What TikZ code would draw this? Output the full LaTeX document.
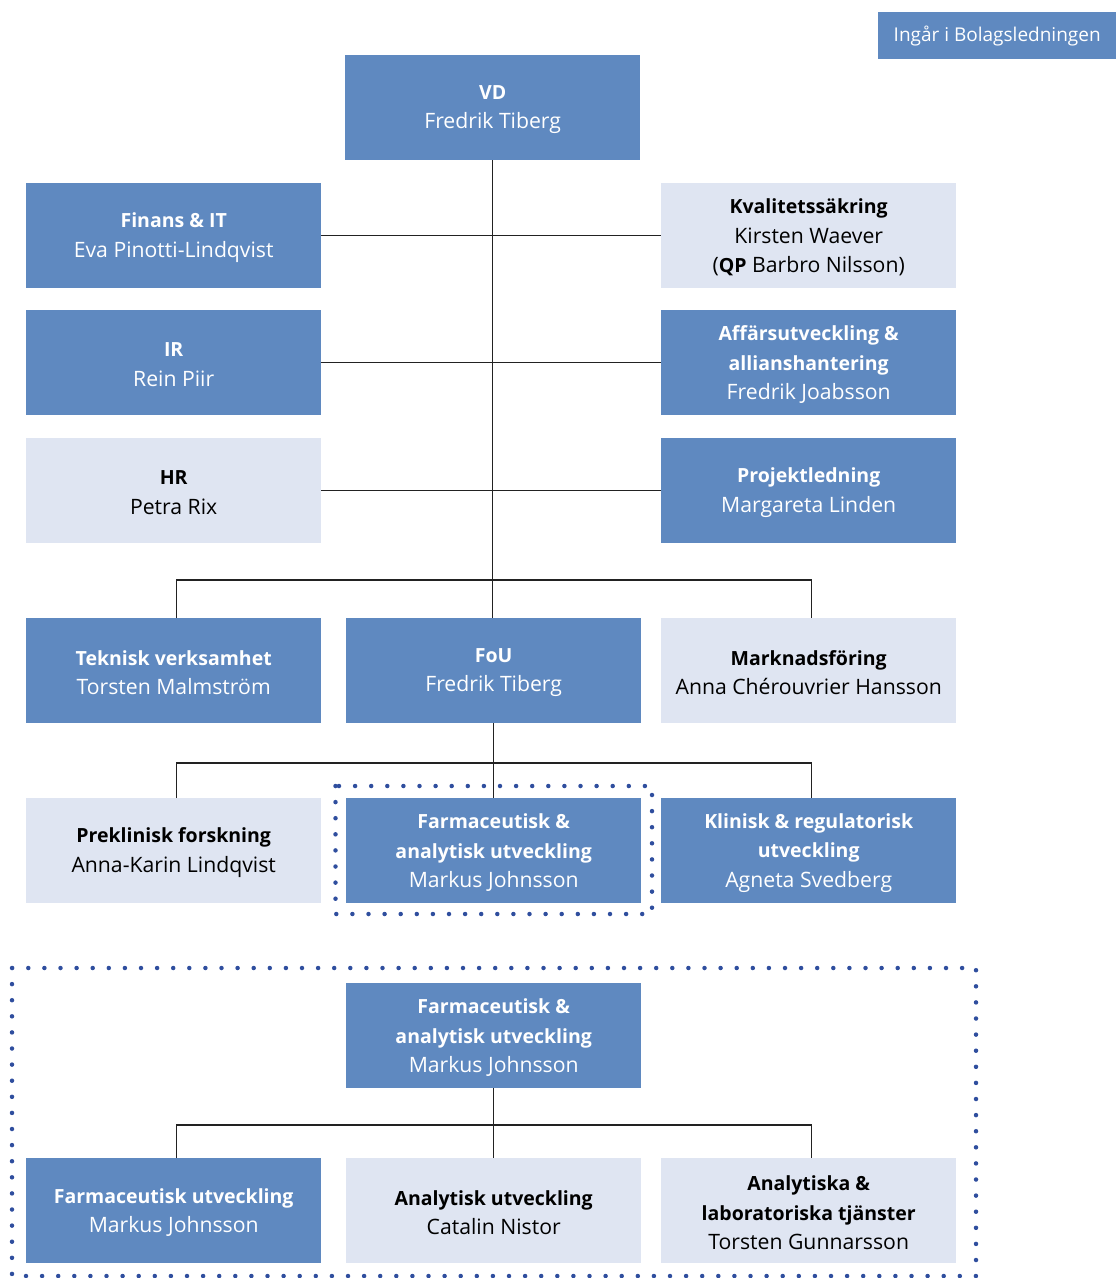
\documentclass[tikz,border=0pt]{standalone}
\usepackage{fontspec}
\setmainfont{Open Sans}[BoldFeatures={Scale=0.92}]
\definecolor{dk}{HTML}{5F89C0}
\definecolor{lt}{HTML}{DFE5F2}
\definecolor{dot}{HTML}{2F4E9E}
\definecolor{ln}{HTML}{222222}
\newcommand{\orgbox}[4]{%
  \node[#1box] (#2) at (#3) {};
  \node[#1txt] (#2-t) at ([yshift=-2pt]#2.center) {#4};}
\begin{document}
\begin{tikzpicture}[x=1pt,y=-1pt,
  box/.style={anchor=north west,minimum width=295pt,minimum height=105pt,inner sep=0pt},
  dkbox/.style={box,fill=dk},
  ltbox/.style={box,fill=lt},
  txt/.style={inner sep=0pt,align=center,font=\fontsize{21.2}{29.5}\selectfont},
  dktxt/.style={txt,text=white},
  lttxt/.style={txt,text=black},
  conn/.style={draw=ln,line width=1.4pt},
  dots/.style={draw=dot,line width=4.5pt,line cap=round,dash pattern=on 0pt off 16.1pt}]
\useasboundingbox (0,0) rectangle (1116,1278);
\node[anchor=north west,fill=dk,text=white,minimum width=238pt,minimum height=47pt,inner sep=0pt,font=\fontsize{19}{22}\selectfont] (ing) at (878,12) {Ingår i Bolagsledningen};
\orgbox{dk}{vd}{345,55}{\textbf{VD}\\Fredrik Tiberg}
\orgbox{dk}{fin}{26,183}{\textbf{Finans \& IT}\\Eva Pinotti-Lindqvist}
\orgbox{lt}{kval}{661,183}{\textbf{Kvalitetssäkring}\\Kirsten Waever\\(\textbf{QP} Barbro Nilsson)}
\orgbox{dk}{ir}{26,310}{\textbf{IR}\\Rein Piir}
\orgbox{dk}{aff}{661,310}{\textbf{Affärsutveckling \&}\\\textbf{allianshantering}\\Fredrik Joabsson}
\orgbox{lt}{hr}{26,438}{\textbf{HR}\\Petra Rix}
\orgbox{dk}{proj}{661,438}{\textbf{Projektledning}\\Margareta Linden}
\orgbox{dk}{tek}{26,618}{\textbf{Teknisk verksamhet}\\Torsten Malmström}
\orgbox{dk}{fou}{346,618}{\textbf{FoU}\\Fredrik Tiberg}
\orgbox{lt}{mark}{661,618}{\textbf{Marknadsföring}\\Anna Chérouvrier Hansson}
\orgbox{lt}{pre}{26,798}{\textbf{Preklinisk forskning}\\Anna-Karin Lindqvist}
\orgbox{dk}{fa}{346,798}{\textbf{Farmaceutisk \&}\\\textbf{analytisk utveckling}\\Markus Johnsson}
\orgbox{dk}{kli}{661,798}{\textbf{Klinisk \& regulatorisk}\\\textbf{utveckling}\\Agneta Svedberg}
\orgbox{dk}{fa2}{346,983}{\textbf{Farmaceutisk \&}\\\textbf{analytisk utveckling}\\Markus Johnsson}
\orgbox{dk}{fu}{26,1158}{\textbf{Farmaceutisk utveckling}\\Markus Johnsson}
\orgbox{lt}{an}{346,1158}{\textbf{Analytisk utveckling}\\Catalin Nistor}
\orgbox{lt}{lab}{661,1158}{\textbf{Analytiska \&}\\\textbf{laboratoriska tjänster}\\Torsten Gunnarsson}
% connectors
\coordinate (b1) at (492,580);
\coordinate (b2) at (492,763);
\coordinate (b3) at (492,1125);
\draw[conn] (vd.south) -- (vd.south |- fou.north);
\draw[conn] (fin.east) -- (kval.west);
\draw[conn] (ir.east) -- (aff.west);
\draw[conn] (hr.east) -- (proj.west);
\draw[conn] ([xshift=2.5pt]tek.north) |- (b1) -| ([xshift=2.5pt]mark.north);
\draw[conn] (fou.south) -- (fa.north);
\draw[conn] ([xshift=2.5pt]pre.north) |- (b2) -| ([xshift=2.5pt]kli.north);
\draw[conn] (fa2.south) -- (an.north);
\draw[conn] ([xshift=2.5pt]fu.north) |- (b3) -| ([xshift=2.5pt]lab.north);
% dotted frames
\draw[dots] (335.5,786) rectangle (652,914);
\draw[dots] (12,968) rectangle (976,1276);
\end{tikzpicture}
\end{document}
